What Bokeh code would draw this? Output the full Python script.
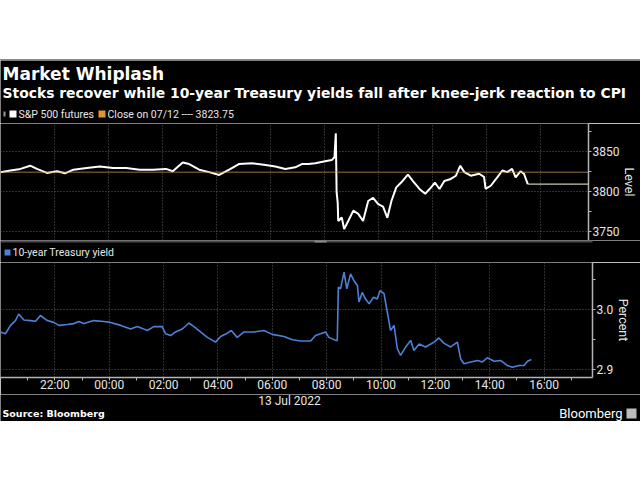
from bokeh.plotting import figure
from bokeh.models import (Range1d, FixedTicker, Grid, Span, Label, BoxAnnotation,
                          PrintfTickFormatter, Spacer)
from bokeh.embed import file_html
from bokeh.resources import INLINE

# ---------------- data (hours relative to 13 Jul 2022 00:00) ----------------
spx_hours = [-4.0, -3.63, -3.26, -2.90, -2.65, -2.28, -1.91, -1.61, -1.30, -0.81,
             -0.32, 0.17, 0.66, 1.15, 1.64, 2.13, 2.38, 2.75, 2.99, 3.36,
             3.73, 4.10, 4.47, 4.83, 5.32, 5.82, 6.18, 6.55, 6.92, 7.16,
             7.41, 7.66, 8.02, 8.27, 8.37, 8.42, 8.45, 8.49, 8.51, 8.64,
             8.73, 8.88, 9.07, 9.25, 9.43, 9.62, 9.80, 9.99, 10.17, 10.33,
             10.48, 10.66, 10.84, 11.09, 11.27, 11.52, 11.73, 11.95, 12.09, 12.26,
             12.44, 12.68, 12.87, 13.03, 13.18, 13.42, 13.73, 13.91, 13.97, 14.16,
             14.40, 14.59, 14.77, 14.95, 15.08, 15.26, 15.39, 15.53]
spx_level = [3823.8, 3826, 3828, 3832, 3828, 3823, 3825, 3822.5, 3827, 3829,
             3831, 3829, 3829, 3827, 3827, 3828, 3825, 3836, 3834, 3827,
             3824, 3820.5, 3827, 3834, 3835, 3833, 3831, 3828, 3830, 3834,
             3834, 3835, 3837.5, 3839, 3842.5, 3872.5, 3799, 3786, 3763, 3767.5,
             3753, 3763, 3776, 3772, 3763, 3788, 3792, 3784, 3781, 3767,
             3788, 3805, 3811, 3821, 3813, 3803, 3797, 3805, 3811, 3803,
             3813, 3815.5, 3819.5, 3832, 3824, 3819.5, 3822, 3818, 3803, 3807,
             3817.5, 3826, 3824, 3828, 3817.5, 3825, 3822, 3809]

yld_hours = [-4.0, -3.82, -3.63, -3.45, -3.33, -3.14, -2.90, -2.71, -2.53, -2.28,
             -2.04, -1.85, -1.55, -1.30, -1.12, -0.93, -0.57, -0.20, 0.05, 0.42,
             0.79, 1.03, 1.22, 1.40, 1.64, 1.95, 2.07, 2.26, 2.44, 2.69,
             2.93, 3.12, 3.36, 3.61, 3.91, 4.10, 4.34, 4.49, 4.71, 4.96,
             5.32, 5.69, 6.00, 6.43, 6.74, 7.04, 7.41, 7.59, 7.78, 7.96,
             8.08, 8.33, 8.39, 8.43, 8.51, 8.64, 8.74, 8.88, 9.00, 9.13,
             9.19, 9.31, 9.43, 9.56, 9.72, 9.86, 9.96, 10.11, 10.23, 10.35,
             10.48, 10.60, 10.72, 10.91, 11.09, 11.21, 11.40, 11.64, 11.95, 12.13,
             12.32, 12.56, 12.81, 12.93, 13.05, 13.30, 13.55, 13.73, 13.91, 14.16,
             14.40, 14.65, 14.83, 15.08, 15.26, 15.39, 15.53]
yld_pct = [2.963, 2.960, 2.974, 2.982, 2.993, 2.983, 2.982, 2.981, 2.9905, 2.982,
           2.979, 2.974, 2.9755, 2.977, 2.9805, 2.977, 2.982, 2.9805, 2.979, 2.974,
           2.968, 2.972, 2.969, 2.9655, 2.972, 2.972, 2.960, 2.957, 2.963, 2.968,
           2.978, 2.972, 2.963, 2.954, 2.946, 2.9555, 2.961, 2.9655, 2.954, 2.963,
           2.963, 2.9655, 2.959, 2.9555, 2.950, 2.948, 2.948, 2.957, 2.960, 2.963,
           2.954, 2.949, 2.949, 3.038, 3.035, 3.063, 3.035, 3.060, 3.049, 3.0405,
           3.013, 3.029, 3.018, 3.010, 3.021, 3.018, 3.032, 3.027, 2.996, 2.9655,
           2.974, 2.935, 2.924, 2.938, 2.949, 2.932, 2.943, 2.938, 2.946, 2.953,
           2.944, 2.938, 2.946, 2.918, 2.910, 2.913, 2.9155, 2.913, 2.920, 2.914,
           2.9155, 2.907, 2.904, 2.907, 2.907, 2.914, 2.917]

prev_close = 3823.75
tick_hours = [-2, 0, 2, 4, 6, 8, 10, 12, 14, 16]
tick_labels = ["22:00", "00:00", "02:00", "04:00", "06:00", "08:00",
               "10:00", "12:00", "14:00", "16:00"]
minor_hours = [-3, -1, 1, 3, 5, 7, 9, 11, 13, 15, 17]
level_ticks = [3750, 3800, 3850]
level_minor = [3775, 3825, 3875]
pct_ticks = [2.9, 3.0]
pct_minor = [2.95, 3.05]

X0, X1 = -4.0, 17.78
BG = "#000000"
GRID = "#5c5c5c"
AXIS = "#b4b4b4"
TXT = "#e6e6e6"
FONT = "Roboto"


def strip(height):
    """A black figure whose frame fills it entirely (for texts)."""
    p = figure(width=640, height=height, x_range=Range1d(0, 1), y_range=Range1d(0, 1),
               x_axis_location=None, y_axis_location=None, toolbar_location=None,
               output_backend="svg", min_border=0)
    p.background_fill_color = BG
    p.border_fill_color = BG
    p.outline_line_color = None
    p.grid.visible = False
    return p


def panel(yr, xloc):
    p = figure(width=640, x_range=Range1d(X0, X1), y_range=yr,
               x_axis_location=xloc, y_axis_location="right",
               toolbar_location=None, output_backend="svg",
               min_border_top=0, min_border_bottom=0,
               min_border_left=0, min_border_right=48)
    p.background_fill_color = BG
    p.border_fill_color = BG
    p.outline_line_color = None
    p.center = [r for r in p.center if not isinstance(r, Grid)]
    p.add_layout(Grid(dimension=0, ticker=FixedTicker(ticks=tick_hours),
                      grid_line_color=GRID, grid_line_dash="1 2", grid_line_width=1))
    return p


def style_axis(ax, ticks, minor, label_text=None):
    ax.ticker = FixedTicker(ticks=ticks, minor_ticks=minor)
    ax.axis_line_color = AXIS
    ax.axis_line_width = 1.5
    ax.major_tick_line_color = AXIS
    ax.minor_tick_line_color = AXIS
    ax.major_tick_in = 0
    ax.major_tick_out = 3
    ax.minor_tick_in = 0
    ax.minor_tick_out = 3
    ax.major_label_text_color = TXT
    ax.major_label_text_font = FONT
    ax.major_label_text_font_size = "12px"
    ax.major_label_standoff = 1
    if label_text:
        ax.axis_label = label_text
        ax.axis_label_text_color = TXT
        ax.axis_label_text_font = FONT
        ax.axis_label_text_font_style = "normal"
        ax.axis_label_text_font_size = "12.5px"
        ax.axis_label_standoff = 0


def label(p, x, y, text, size, color=TXT, font=FONT, bold=False, align="left"):
    p.add_layout(Label(x=x, y=y, x_units="screen", y_units="screen", text=text,
                       text_color=color, text_font=font,
                       text_font_style="bold" if bold else "normal",
                       text_font_size=size, text_align=align, text_baseline="middle"))


def box(p, left, bottom, w, h, color):
    p.add_layout(BoxAnnotation(left=left, right=left + w, bottom=bottom, top=bottom + h,
                               left_units="screen", right_units="screen",
                               bottom_units="screen", top_units="screen",
                               fill_color=color, fill_alpha=1, line_color=None))


# ---------------- header (title, subtitle, legend) ----------------
head = strip(63)
label(head, 2, 50, "Market Whiplash", "17px", color="#ffffff", font="DejaVu Sans", bold=True)
label(head, 2, 31, "Stocks recover while 10-year Treasury yields fall after knee-jerk reaction to CPI",
      "13.9px", color="#ffffff", font="DejaVu Sans", bold=True)
box(head, 3, 7, 2, 5, "#9a9a9a")
box(head, 9, 6, 7, 7, "#ffffff")
label(head, 18, 9, "S&P 500 futures", "10.5px")
box(head, 98, 6, 7, 7, "#e0952e")
label(head, 107, 9, "Close on 07/12 ---- 3823.75", "10.5px")

# ---------------- top panel (S&P 500 futures) ----------------
top = panel(Range1d(3738.75, 3884.6), None)
top.frame_height = 117
top.add_layout(Grid(dimension=1, ticker=FixedTicker(ticks=level_ticks),
                    grid_line_color=GRID, grid_line_dash="1 2", grid_line_width=1))
style_axis(top.yaxis[0], level_ticks, level_minor, "Level")
top.add_layout(Span(location=prev_close, dimension="width", line_color="#c89a5a",
                    line_dash="1 1", line_width=1.5))
top.line([spx_hours[-1], X1], [spx_level[-1], spx_level[-1]], line_color="#c8c8b4",
         line_width=1.2)
top.line(spx_hours, spx_level, line_color="#ffffff", line_width=2)

# ---------------- middle strip (second legend) ----------------
mid = strip(22)
box(mid, 0, 20, 592, 2, "#4a4a4a")
box(mid, 314, 20, 12, 2, "#8a8a8a")
box(mid, 4, 7, 6, 6, "#4f80d8")
label(mid, 12, 10, "10-year Treasury yield", "10.5px")

# ---------------- bottom panel (10-year yield) ----------------
bot = panel(Range1d(2.887, 3.079), "below")
bot.frame_height = 115
bot.add_layout(Grid(dimension=1, ticker=FixedTicker(ticks=pct_ticks),
                    grid_line_color=GRID, grid_line_dash="1 2", grid_line_width=1))
style_axis(bot.yaxis[0], pct_ticks, pct_minor, "Percent")
bot.yaxis[0].formatter = PrintfTickFormatter(format="%.1f")
style_axis(bot.xaxis[0], tick_hours, minor_hours)
bot.xaxis[0].major_label_standoff = -3
bot.xaxis[0].major_label_overrides = dict(zip(tick_hours, tick_labels))
bot.line(yld_hours, yld_pct, line_color="#4f80d8", line_width=1.6)

# ---------------- footer ----------------
foot = strip(27)
label(foot, 289, 21, "13 Jul 2022", "12px", align="center")
label(foot, 2, 8, "Source: Bloomberg", "9.5px", color="#ffffff", font="DejaVu Sans", bold=True)
label(foot, 622, 8, "Bloomberg", "13px", color="#ffffff", align="right")
box(foot, 626, 3, 10, 10, "#bbbbbb")

roots = [Spacer(width=640, height=59),
         Spacer(width=640, height=1, styles={"background-color": "#8a8a8a"}),
         head, top, mid, bot, foot]

open("out.html", "w").write(file_html(roots, INLINE))
